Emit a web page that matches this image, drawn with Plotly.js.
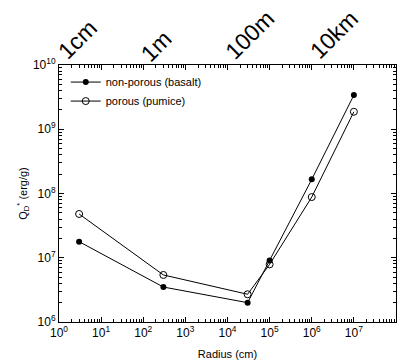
<!DOCTYPE html>
<html><head><meta charset="utf-8">
<script src="https://cdn.plot.ly/plotly-3.0.1.min.js"></script>
<style>html,body{margin:0;padding:0;background:#fff}#c{width:405px;height:360px}</style>
</head><body><div id="c"></div>
<script>
const radius = [3, 300, 3e4, 1e5, 1e6, 1e7];
const basalt = [1.78e7, 3.5e6, 2.0e6, 9.1e6, 1.66e8, 3.4e9];
const pumice = [4.8e7, 5.4e6, 2.7e6, 7.9e6, 8.8e7, 1.87e9];
const xTickVals = [1, 10, 100, 1e3, 1e4, 1e5, 1e6, 1e7, 1e8];
const xTickText = ['0','1','2','3','4','5','6','7','8'].map(e => '10<sup>' + e + '</sup>');
const yTickVals = [1e6, 1e7, 1e8, 1e9, 1e10];
const yTickText = ['6','7','8','9','10'].map(e => '10<sup>' + e + '</sup>');
const sizeTickVals = [1, 100, 1e4, 1e6];
const sizeTickText = ['1cm', '1m', '100m', '10km'];

function minorTicks(lo, hi) {
  const v = [];
  for (let p = lo; p < hi; p++) for (let m = 2; m <= 9; m++) v.push(m * Math.pow(10, p));
  return v;
}

const F = 'Liberation Sans, Arial, sans-serif';
const traces = [
  {x: radius, y: basalt, name: 'non-porous (basalt)', mode: 'lines+markers',
   line: {color: '#000', width: 1}, marker: {symbol: 'circle', size: 6, color: '#000'}},
  {x: radius, y: pumice, name: 'porous (pumice)', mode: 'lines+markers',
   line: {color: '#000', width: 1}, marker: {symbol: 'circle-open', size: 7, color: '#000', line: {width: 1}}}
];
const annotations = sizeTickVals.map((v, i) => {
  const len = sizeTickText[i].length;
  return {xref: 'x', yref: 'paper', x: Math.log10(v), y: 1, text: sizeTickText[i],
          textangle: -45, showarrow: false, xanchor: 'center', yanchor: 'middle',
          xshift: Math.round(5 + len * 4.2), yshift: Math.round(8 + len * 5.5),
          font: {size: 23, family: F, color: '#000'}};
});
const base = {type: 'log', ticks: 'inside', tickcolor: '#000', tickwidth: 1, mirror: 'allticks',
  showline: true, linecolor: '#000', linewidth: 1, showgrid: false, zeroline: false,
  tickfont: {size: 12, family: F, color: '#000'}};
const layout = {
  width: 405, height: 360,
  margin: {l: 59, r: 9, t: 65, b: 38},
  paper_bgcolor: '#fff', plot_bgcolor: '#fff',
  font: {family: F, size: 12, color: '#000'},
  showlegend: true,
  annotations: annotations,
  legend: {x: 0.02, y: 0.99, xanchor: 'left', yanchor: 'top', bgcolor: 'rgba(0,0,0,0)',
           font: {size: 11, family: F, color: '#000'}, tracegroupgap: 0},
  xaxis: Object.assign({}, base, {range: [0, 8], tickvals: xTickVals, ticktext: xTickText, ticklen: 5,
          minor: {ticks: 'inside', ticklen: 3, tickcolor: '#000', tickvals: minorTicks(0, 8), showgrid: false},
          title: {text: 'Radius (cm)', font: {size: 11, family: F, color: '#000'}}}),
  yaxis: Object.assign({}, base, {range: [6, 10], tickvals: yTickVals, ticktext: yTickText, ticklen: 5,
          minor: {ticks: 'inside', ticklen: 3, tickcolor: '#000', tickvals: minorTicks(6, 10), showgrid: false},
          title: {text: 'Q<sub>D</sub><sup>*</sup> (erg/g)', font: {size: 11, family: F, color: '#000'}}})
};

function fixRotation() {
  document.querySelectorAll('.annotation-text-g').forEach(g => {
    const t = g.getAttribute('transform') || '';
    if (/rotate/.test(t)) return;
    const b = g.getBBox();
    if (!b.width) return;
    const cx = b.x + b.width / 2, cy = b.y + b.height / 2;
    g.setAttribute('transform', 'rotate(-45,' + cx + ',' + cy + ')');
  });
}
Plotly.newPlot('c', traces, layout, {staticPlot: true, displayModeBar: false}).then(fixRotation, fixRotation);
setTimeout(fixRotation, 50);
setTimeout(fixRotation, 300);
</script></body></html>
